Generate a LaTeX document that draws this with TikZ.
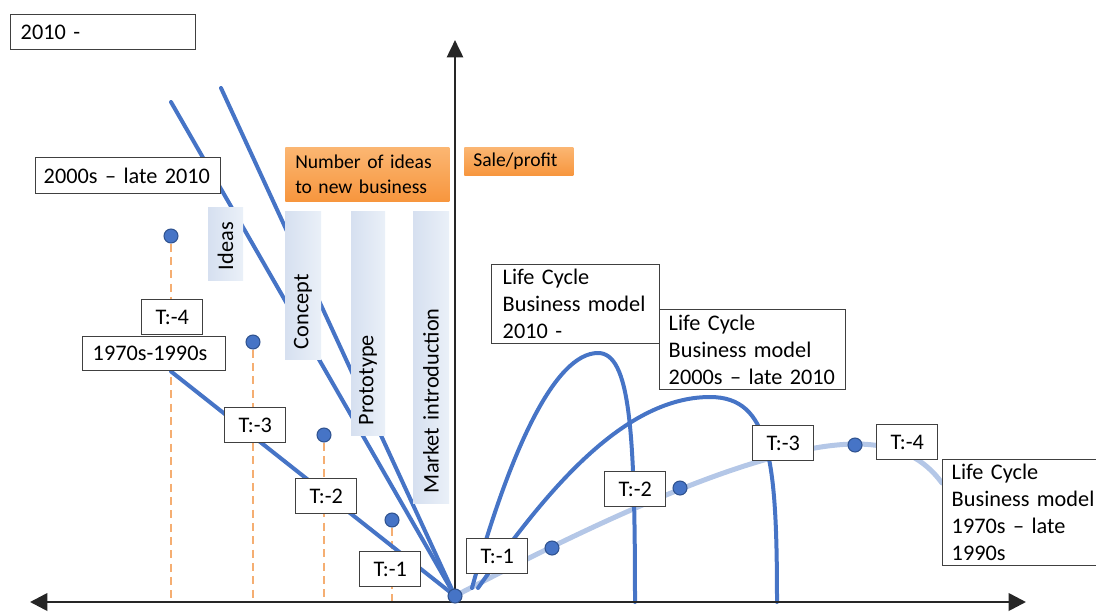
\documentclass[tikz,border=0pt]{standalone}
\usepackage{fontspec}
\setmainfont{Carlito}
\usetikzlibrary{arrows.meta}
\definecolor{mblue}{HTML}{4674C6}
\definecolor{lblue}{HTML}{B4C7E7}
\definecolor{dblue}{HTML}{2F528F}
\definecolor{dorange}{HTML}{F5AE72}
\definecolor{orA}{HTML}{FBB672}
\definecolor{orB}{HTML}{F7963E}
\definecolor{stageA}{HTML}{D6E0F0}
\definecolor{stageB}{HTML}{EAF0F8}
\definecolor{frame}{HTML}{404040}
\pgfdeclarelayer{bg}
\pgfsetlayers{bg,main}
\begin{document}
\begin{tikzpicture}[x=0.75pt,y=-0.75pt,
 txt/.style={font=\fontsize{16.7}{20.3}\selectfont},
 box/.style={txt, draw=frame, line width=1.1pt, fill=white, inner ysep=0pt, anchor=north west},
 lbox/.style={box, align=left, inner xsep=7.5pt},
 tbox/.style={box, minimum width=45.75pt, minimum height=25.9pt, inner xsep=0pt},
 obox/.style={anchor=north west, font=\fontsize{14.7}{18.75}\selectfont, align=left, inner xsep=7.5pt, inner ysep=0pt, top color=orA, bottom color=orB, draw=none},
 stage/.style={txt, rotate=90, left color=stageA, right color=stageB, align=left, inner xsep=7.5pt, inner ysep=0pt},
 dot/.style={circle, fill=mblue, draw=dblue, line width=0.8pt, minimum size=10.5pt, inner sep=0pt},
 bline/.style={mblue, line width=3pt, line cap=round},
 lline/.style={lblue, line width=3.75pt, line cap=round},
 dline/.style={dorange, line width=1.8pt, dash pattern=on 6pt off 4pt},
 axis/.style={black!85, line width=2pt}
]
\useasboundingbox (0,0) rectangle (1096,611);

% coordinates
\coordinate (xl) at (30,602);
\coordinate (xr) at (1026,602);
\coordinate (yt) at (455,40);
\coordinate (yb) at (455,602);
\coordinate (l1s) at (171,102);
\coordinate (l2s) at (221,88);
\coordinate (s1) at (472,588);
\coordinate (e1) at (635,602);
\coordinate (s2) at (478,588);
\coordinate (e2) at (777,602);
\coordinate (e3) at (942,483);

% dots
\node[dot] (dL4) at (171,236) {};
\node[dot] (dL3) at (253,342) {};
\node[dot] (dL2) at (324,435) {};
\node[dot] (dL1) at (392,520) {};
\node[dot] (O) at (455,596) {};
\node[dot] (dR1) at (552,548) {};
\node[dot] (dR2) at (680,488) {};
\node[dot] (dR4) at (855,445) {};

% labels
\node[lbox, minimum height=26.25pt, text width=123.75pt] (b2010) at (10,14) {2010 -};
\node[lbox, minimum height=27pt, inner xsep=6pt, text width=126.75pt] (b2000) at (35,157) {2000s – late 2010};
\node[lbox, minimum height=25.5pt, text width=92.25pt] (b1970) at (82,336) {1970s-1990s};

\node[tbox] (tL4) at (141,299) {T:-4};
\node[tbox] (tL3) at (224,407) {T:-3};
\node[tbox] (tL2) at (295,478) {T:-2};
\node[tbox] (tL1) at (359,551) {T:-1};
\node[tbox] (tR1) at (466,538) {T:-1};
\node[tbox] (tR2) at (604,471) {T:-2};
\node[tbox] (tR3) at (752,425) {T:-3};
\node[tbox] (tR4) at (876,424) {T:-4};

\node[lbox, minimum height=59.25pt, inner xsep=8.25pt, text width=109.5pt] (lc2010) at (491,264) {Life Cycle\\Business model\\2010 -};
\node[lbox, minimum height=60pt, inner xsep=6.75pt, text width=126pt] (lc2000) at (659,309) {Life Cycle\\Business model\\2000s – late 2010};
\node[lbox, minimum height=79.5pt, inner xsep=6.75pt, text width=114pt] (lc1970) at (942,459) {Life Cycle\\Business model\\1970s – late\\1990s};

\node[obox, minimum height=40.5pt, text width=108pt] (nid) at (285,147) {Number of ideas\\to new business};
\node[obox, minimum height=21pt, inner xsep=6.75pt, text width=68.25pt] (sp) at (464,147) {Sale/profit};

\node[stage, minimum height=26.25pt, text width=39.75pt] (ideas) at (225.5,243.5) {Ideas};
\node[stage, minimum height=27pt, text width=96pt] (concept) at (303,285) {Concept};
\node[stage, minimum height=25.5pt, text width=153pt] (proto) at (368,323) {Prototype};
\node[stage, minimum height=27pt, text width=204pt] (market) at (431,357) {Market introduction};

\begin{pgfonlayer}{bg}
\draw[dline] (dL4) -- (dL4 |- yb);
\draw[dline] (dL3) -- (dL3 |- yb);
\draw[dline] (dL2) -- (dL2 |- yb);
\draw[dline] (dL1) -- (dL1 |- yb);
\draw[bline] (l1s) -- (O.center);
\draw[bline] (l2s) -- (O.center);
\draw[bline] (b1970.south -| dL4) -- (O.center);
\draw[lline] (O.center) .. controls (600,520) and (760,445) .. (855,444) .. controls (900,444) and (925,460) .. (e3);
\draw[bline] (s1) .. controls (510,450) and (555,353) .. (598,353) .. controls (630,353) and (635,430) .. (e1);
\draw[bline] (s2) .. controls (540,500) and (620,397) .. (710,397) .. controls (770,397) and (777,460) .. (e2);
\draw[axis, {Triangle[length=13pt,width=13pt]}-{Triangle[length=13pt,width=13pt]}] (xl) -- (xr);
\draw[axis, -{Triangle[length=13pt,width=12pt]}] (yb) -- (yt);
\end{pgfonlayer}
\end{tikzpicture}
\end{document}
